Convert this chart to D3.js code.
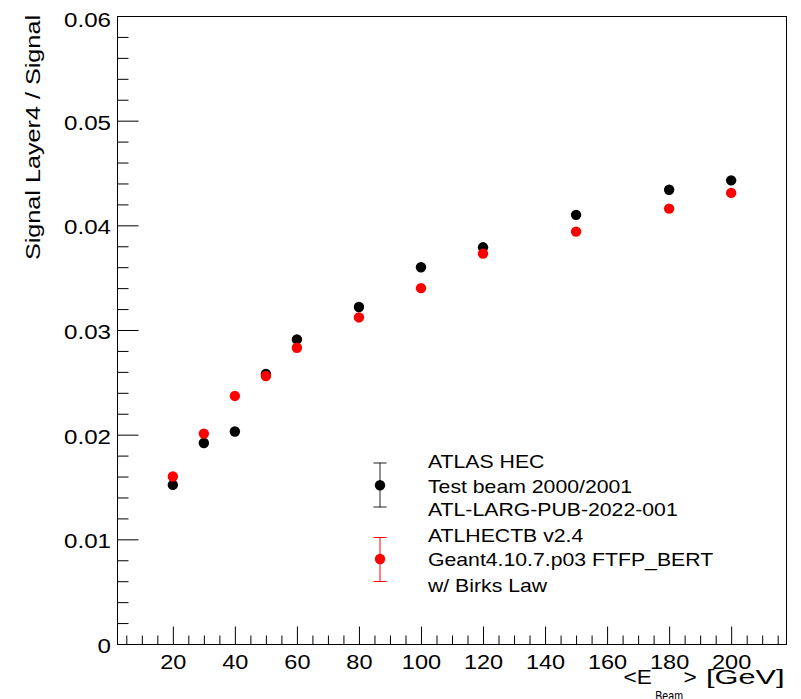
<!DOCTYPE html>
<html>
<head>
<meta charset="utf-8">
<script src="https://cdn.jsdelivr.net/npm/d3@7"></script>
<style>
  html, body { margin: 0; padding: 0; background: #fff; }
  svg { display: block; }
  text { font-family: "Liberation Sans", Arial, Helvetica, sans-serif; fill: #000; }
</style>
</head>
<body>
<svg id="chart" width="801" height="699"></svg>
<script>
// ---- data ----
const energies = [20, 30, 40, 50, 60, 80, 100, 120, 150, 180, 200];
const dataValues = [0.0152, 0.0192, 0.0203, 0.0258, 0.0291, 0.0322, 0.0360, 0.0379, 0.0410, 0.0434, 0.0443];
const simValues  = [0.0160, 0.0201, 0.0237, 0.0256, 0.0283, 0.0312, 0.0340, 0.0373, 0.0394, 0.0416, 0.0431];
const xMajorTicks = [20, 40, 60, 80, 100, 120, 140, 160, 180, 200];
const yMajorTicks = [0, 0.01, 0.02, 0.03, 0.04, 0.05, 0.06];
const yTickLabels = ["0", "0.01", "0.02", "0.03", "0.04", "0.05", "0.06"];
const legendData = ["ATLAS HEC", "Test beam 2000/2001", "ATL-LARG-PUB-2022-001"];
const legendSim = ["ATLHECTB v2.4", "Geant4.10.7.p03 FTFP_BERT", "w/ Birks Law"];
const yTitle = "Signal Layer4 / Signal";

const svg = d3.select("#chart");
const L = 117, R = 787, T = 16, B = 644;
const x = d3.scaleLinear().domain([2, 218]).range([L, R]);
const y = d3.scaleLinear().domain([0, 0.06]).range([B, T]);

const xMinor = d3.range(5, 218, 5).filter(v => v % 20 !== 0);
const yMinor = d3.range(0, 0.0601, 0.002).filter((v, i) => i % 5 !== 0);

// frame
svg.append("rect").attr("x", L + 0.5).attr("y", T + 0.5)
  .attr("width", R - L - 1).attr("height", B - T)
  .attr("fill", "none").attr("stroke", "#000").attr("stroke-width", 1);

function styleAxis(g) {
  g.select(".domain").remove();
  g.selectAll("line").attr("stroke", "#000").attr("stroke-width", 1);
}

// y axis ticks
svg.append("g").attr("transform", `translate(${L + 0.5},0)`)
  .call(d3.axisLeft(y).tickValues(yMinor).tickSize(-11).tickFormat(""))
  .call(styleAxis);
const yAx = svg.append("g").attr("transform", `translate(${L + 0.5},0)`)
  .call(d3.axisLeft(y).tickValues(yMajorTicks).tickSize(-21).tickPadding(6)
    .tickFormat((d, i) => yTickLabels[i]))
  .call(styleAxis);
yAx.selectAll("text")
  .attr("x", null).attr("dy", null).attr("y", null)
  .attr("font-size", 21)
  .attr("text-anchor", "end")
  .attr("transform", function(d) {
    const py = y(d);
    const off = Math.max(py + 8.5, 26.7) - py;
    return `translate(-6.5,${off}) scale(1.15,1)`;
  });

// x axis ticks
svg.append("g").attr("transform", `translate(0,${B + 0.5})`)
  .call(d3.axisBottom(x).tickValues(xMinor).tickSize(-9).tickFormat(""))
  .call(styleAxis);
const xAx = svg.append("g").attr("transform", `translate(0,${B + 0.5})`)
  .call(d3.axisBottom(x).tickValues(xMajorTicks).tickSize(-18).tickFormat(d3.format("d")))
  .call(styleAxis);
xAx.selectAll("text")
  .attr("x", null).attr("dy", null).attr("y", null)
  .attr("font-size", 21)
  .attr("text-anchor", "middle")
  .attr("transform", "translate(0,24.2) scale(1.12,1)");

// y title
svg.append("text")
  .attr("font-size", 21)
  .attr("text-anchor", "end")
  .attr("transform", "translate(40,15) rotate(-90) scale(1.2,1)")
  .text(yTitle);

// x title
svg.append("text").attr("font-size", 21)
  .attr("transform", "translate(623.5,683.8) scale(1.08,1)").text("<E");
svg.append("text").attr("font-size", 14.5)
  .attr("x", 655.3).attr("y", 700.5).attr("textLength", 27.7)
  .attr("lengthAdjust", "spacingAndGlyphs").text("Beam");
svg.append("text").attr("font-size", 21)
  .attr("transform", "translate(683.5,683.8) scale(1.08,1)").text(">");
svg.append("text").attr("font-size", 21)
  .attr("x", 706).attr("y", 683.8).attr("textLength", 78.5)
  .attr("lengthAdjust", "spacingAndGlyphs").text("[GeV]");

// data markers
const pts = energies.map((e, i) => ({ e, d: dataValues[i], s: simValues[i] }));
svg.append("g").selectAll("circle").data(pts).join("circle")
  .attr("cx", p => x(p.e)).attr("cy", p => y(p.d)).attr("r", 5.2).attr("fill", "#000");
svg.append("g").selectAll("circle").data(pts).join("circle")
  .attr("cx", p => x(p.e)).attr("cy", p => y(p.s)).attr("r", 5.2).attr("fill", "#ff0000");

// legend
function legendEntry(cy, top, bot, color, barColor) {
  const g = svg.append("g");
  const lx = 380;
  g.append("line").attr("x1", lx).attr("x2", lx).attr("y1", top).attr("y2", bot)
    .attr("stroke", barColor).attr("stroke-width", 1);
  g.append("line").attr("x1", lx - 6.5).attr("x2", lx + 6.5).attr("y1", top + 0.5).attr("y2", top + 0.5)
    .attr("stroke", barColor).attr("stroke-width", 1);
  g.append("line").attr("x1", lx - 6.5).attr("x2", lx + 6.5).attr("y1", bot - 0.5).attr("y2", bot - 0.5)
    .attr("stroke", barColor).attr("stroke-width", 1);
  g.append("circle").attr("cx", lx).attr("cy", cy).attr("r", 5.2).attr("fill", color);
}
legendEntry(485.3, 462.5, 507.5, "#000", "#222");
legendEntry(559, 537, 582, "#ff0000", "#ff0000");

const dataBase = [468.3, 492.5, 516.3];
const simBase = [542.2, 566, 591.5];
legendData.forEach((t, i) => {
  svg.append("text").attr("font-size", 18)
    .attr("transform", `translate(428,${dataBase[i]}) scale(1.18,1)`).text(t);
});
legendSim.forEach((t, i) => {
  svg.append("text").attr("font-size", 18)
    .attr("transform", `translate(428,${simBase[i]}) scale(1.18,1)`).text(t);
});
</script>
</body>
</html>
